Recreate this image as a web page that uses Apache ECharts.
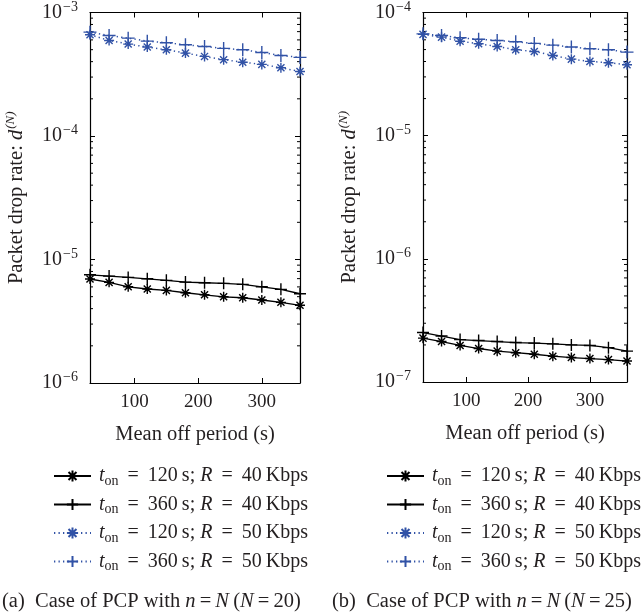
<!DOCTYPE html>
<html><head><meta charset="utf-8">
<script src="https://cdn.jsdelivr.net/npm/echarts@6/dist/echarts.min.js"></script>
<style>html,body{margin:0;padding:0;background:#fff}#c{width:642px;height:616px}</style>
</head><body><div id="c"></div>
<script>
// ---- data ----
const offPeriod = [30, 60, 90, 120, 150, 180, 210, 240, 270, 300, 330, 360];
const xTicks = [100, 200, 300];
const tonValues = [120, 360, 120, 360];
const rateValues = [40, 40, 50, 50];
// Panel (a): N = 20
const a_t120_r40 = [6.95e-6, 6.53e-6, 6.01e-6, 5.77e-6, 5.62e-6, 5.38e-6, 5.18e-6, 4.99e-6, 4.90e-6, 4.70e-6, 4.50e-6, 4.26e-6];
const a_t360_r40 = [7.52e-6, 7.34e-6, 7.16e-6, 6.98e-6, 6.78e-6, 6.56e-6, 6.48e-6, 6.41e-6, 6.29e-6, 6.01e-6, 5.73e-6, 5.28e-6];
const a_t120_r50 = [6.6e-4, 5.94e-4, 5.55e-4, 5.25e-4, 4.99e-4, 4.69e-4, 4.41e-4, 4.15e-4, 3.96e-4, 3.80e-4, 3.57e-4, 3.33e-4];
const a_t360_r50 = [6.93e-4, 6.52e-4, 6.2e-4, 5.86e-4, 5.69e-4, 5.48e-4, 5.31e-4, 5.12e-4, 4.99e-4, 4.75e-4, 4.49e-4, 4.33e-4];
// Panel (b): N = 25
const b_t120_r40 = [2.27e-7, 2.13e-7, 1.98e-7, 1.87e-7, 1.78e-7, 1.73e-7, 1.68e-7, 1.62e-7, 1.58e-7, 1.55e-7, 1.52e-7, 1.48e-7];
const b_t360_r40 = [2.52e-7, 2.36e-7, 2.21e-7, 2.17e-7, 2.13e-7, 2.09e-7, 2.07e-7, 2.04e-7, 2.00e-7, 1.98e-7, 1.90e-7, 1.78e-7];
const b_t120_r50 = [6.64e-5, 6.31e-5, 5.85e-5, 5.57e-5, 5.30e-5, 4.98e-5, 4.83e-5, 4.48e-5, 4.18e-5, 4.01e-5, 3.91e-5, 3.77e-5];
const b_t360_r50 = [6.71e-5, 6.5e-5, 6.23e-5, 6.07e-5, 5.93e-5, 5.78e-5, 5.61e-5, 5.43e-5, 5.24e-5, 5.08e-5, 4.98e-5, 4.77e-5];
const panelYMin = [1e-6, 1e-7];
const panelYMax = [1e-3, 1e-4];
const panelN = [20, 25];
const panelTag = ['a', 'b'];

// ---- styling ----
const FONT = '"Liberation Serif", "Times New Roman", serif';
const TXT = '#231f20';
const BLUE = '#3152a6';
const STAR = 'path://M0,5L10,5M5,0L5,10M1.46,1.46L8.54,8.54M1.46,8.54L8.54,1.46';
const PLUS = 'path://M0,5L10,5M5,0L5,10';
const names = tonValues.map((t, i) => 't_on = ' + t + ' s; R = ' + rateValues[i] + ' Kbps');
const styles = [
  {color: '#000', type: 'solid', symbol: STAR, size: 10},
  {color: '#000', type: 'solid', symbol: PLUS, size: 12},
  {color: BLUE, type: [1.3, 3.2], symbol: STAR, size: 10},
  {color: BLUE, type: [1.3, 3.2], symbol: PLUS, size: 13}
];
const panelData = [
  [a_t120_r40, a_t360_r40, a_t120_r50, a_t360_r50],
  [b_t120_r40, b_t360_r40, b_t120_r50, b_t360_r50]
];
const grids = [
  {left: 90, top: 12, width: 210, height: 371},
  {left: 423, top: 12, width: 204, height: 370}
];

const axLine = {show: true, onZero: false, lineStyle: {color: '#000', width: 1.2}};
const xAxes = [], yAxes = [], series = [];
grids.forEach((g, i) => {
  xAxes.push({
    type: 'value', gridIndex: i, min: 30, max: 360, position: 'bottom',
    axisLine: axLine,
    axisTick: {show: true, inside: true, length: 5, customValues: xTicks, lineStyle: {color: '#000', width: 1}},
    axisLabel: {customValues: xTicks, fontSize: 19, fontFamily: FONT, color: TXT, margin: 10},
    splitLine: {show: false},
    name: 'Mean off period (s)', nameLocation: 'middle', nameGap: 41,
    nameTextStyle: {fontSize: 20.5, fontFamily: FONT, color: TXT}
  });
  xAxes.push({
    type: 'value', gridIndex: i, min: 30, max: 360, position: 'top',
    axisLine: axLine,
    axisTick: {show: true, inside: true, length: 5, customValues: xTicks, lineStyle: {color: '#000', width: 1}},
    axisLabel: {show: false}, splitLine: {show: false}
  });
  yAxes.push({
    type: 'log', logBase: 10, gridIndex: i, min: panelYMin[i], max: panelYMax[i], position: 'left',
    axisLine: axLine,
    axisTick: {show: true, inside: true, length: 5, lineStyle: {color: '#000', width: 1}},
    axisLabel: {
      margin: 12,
      formatter: v => '{b|10}{s|\u2212' + Math.round(-Math.log10(v)) + '}',
      rich: {
        b: {fontSize: 20, fontFamily: FONT, color: TXT, lineHeight: 24},
        s: {fontSize: 14, fontFamily: FONT, color: TXT, lineHeight: 24, padding: [0, 0, 11, 1]}
      }
    },
    splitLine: {show: false},
    name: '{n|Packet drop rate: }{i|d}{s|(N)}', nameLocation: 'middle', nameGap: 61, nameRotate: 90,
    nameTextStyle: {
      rich: {
        n: {fontSize: 20.5, fontFamily: FONT, color: TXT, lineHeight: 24},
        i: {fontSize: 20.5, fontFamily: FONT, fontStyle: 'italic', color: TXT, lineHeight: 24},
        s: {fontSize: 13, fontFamily: FONT, fontStyle: 'italic', color: TXT, lineHeight: 24, padding: [0, 0, 13, 1]}
      }
    }
  });
  yAxes.push({
    type: 'log', logBase: 10, gridIndex: i, min: panelYMin[i], max: panelYMax[i], position: 'right',
    axisLine: axLine,
    axisTick: {show: true, inside: true, length: 5, lineStyle: {color: '#000', width: 1}},
    axisLabel: {show: false}, splitLine: {show: false}
  });
  // minor log ticks on both sides
  const minor = [];
  const e0 = Math.round(Math.log10(panelYMin[i])), e1 = Math.round(Math.log10(panelYMax[i]));
  for (let e = e0; e < e1; e++) for (let m = 2; m <= 9; m++) minor.push([30, m * Math.pow(10, e)]);
  series.push({
    type: 'custom', xAxisIndex: 2 * i, yAxisIndex: 2 * i, silent: true, clip: false, z: 1,
    data: minor, encode: {x: 0, y: 1},
    renderItem: (params, api) => {
      const v = api.value(1);
      const p1 = api.coord([30, v]);
      const p2 = api.coord([360, v]);
      return {type: 'group', children: [
        {type: 'line', shape: {x1: p1[0], y1: p1[1], x2: p1[0] + 3, y2: p1[1]}, style: {stroke: '#000', lineWidth: 1}},
        {type: 'line', shape: {x1: p2[0] - 3, y1: p2[1], x2: p2[0], y2: p2[1]}, style: {stroke: '#000', lineWidth: 1}}
      ]};
    }
  });
  panelData[i].forEach((arr, k) => {
    const st = styles[k];
    series.push({
      type: 'line', name: names[k], xAxisIndex: 2 * i, yAxisIndex: 2 * i,
      data: offPeriod.map((x, j) => [x, arr[j]]),
      symbol: st.symbol, symbolSize: st.size, showSymbol: true, animation: false,
      lineStyle: {color: st.color, width: st.type === 'solid' ? 1.3 : 1.5, type: st.type},
      itemStyle: {color: st.color, borderColor: st.color, borderWidth: 1.4},
      z: 3
    });
  });
});

const legendRich = {
  i: {fontSize: 20, fontFamily: FONT, fontStyle: 'italic', color: TXT, lineHeight: 22},
  sub: {fontSize: 14, fontFamily: FONT, color: TXT, lineHeight: 22, padding: [10, 0, 0, 0]},
  n: {fontSize: 20, fontFamily: FONT, color: TXT, lineHeight: 22}
};
function legendFormatter(name) {
  const m = name.match(/= (\d+) s; R = (\d+)/);
  return '{i|t}{sub|on}{n|\u2009 = \u2009' + m[1] + '\u2009s; }{i|R}{n|\u2009 = \u2009' + m[2] + '\u2009Kbps}';
}
const legends = [
  {left: 53, top: 464},
  {left: 386, top: 464}
].map(p => ({
  left: p.left, top: p.top, orient: 'vertical', padding: 0, itemWidth: 37, itemHeight: 14, itemGap: 4.5,
  data: names, selectedMode: false, formatter: legendFormatter,
  textStyle: {rich: legendRich, padding: [0, 0, 0, 3]}
}));

const capRich = {
  n: {fontSize: 20.5, fontFamily: FONT, fill: TXT},
  i: {fontSize: 20.5, fontFamily: FONT, fontStyle: 'italic', fill: TXT}
};
const graphics = panelTag.map((tag, i) => ({
  type: 'text', left: i === 0 ? 2 : 332, top: 591,
  style: {
    text: '{n|(' + tag + ')  Case of PCP with }{i|n}{n|\u2009=\u2009}{i|N}{n|\u2009(}{i|N}{n|\u2009=\u2009' + panelN[i] + ')}',
    rich: capRich, font: '20.5px ' + FONT, fill: TXT
  }
}));

const chart = echarts.init(document.getElementById('c'), null, {renderer: 'canvas'});
chart.setOption({
  animation: false,
  backgroundColor: '#fff',
  grid: grids,
  xAxis: xAxes,
  yAxis: yAxes,
  legend: legends,
  graphic: graphics,
  series: series
});
</script>
</body></html>
